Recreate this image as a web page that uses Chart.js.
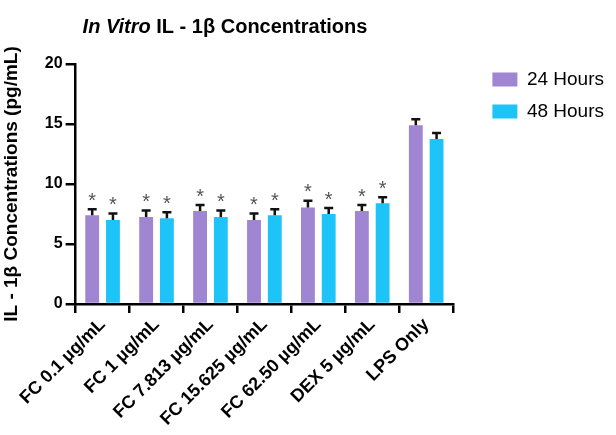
<!DOCTYPE html>
<html>
<head>
<meta charset="utf-8">
<script src="https://cdn.jsdelivr.net/npm/chart.js@4"></script>
<style>
  html, body { margin: 0; padding: 0; background: #fff; }
  #wrap { width: 616px; height: 435px; }
</style>
</head>
<body>
<div id="wrap"><canvas id="BarChart"></canvas></div>
<script>
const labels = ['FC 0.1 µg/mL', 'FC 1 µg/mL', 'FC 7.813 µg/mL', 'FC 15.625 µg/mL', 'FC 62.50 µg/mL', 'DEX 5 µg/mL', 'LPS Only'];
const hours24 = [7.4, 7.25, 7.75, 7.0, 8.05, 7.75, 14.9];
const hours48 = [7.0, 7.15, 7.25, 7.4, 7.5, 8.4, 13.75];
const err24 = [0.5, 0.55, 0.5, 0.55, 0.55, 0.5, 0.5];
const err48 = [0.55, 0.5, 0.55, 0.5, 0.5, 0.5, 0.5];
const sig24 = [true, true, true, true, true, true, false];
const sig48 = [true, true, true, true, true, true, false];
const yTicks = [0, 5, 10, 15, 20];

const FONT = "'Liberation Sans', Arial, Helvetica, sans-serif";
const errors = [err24, err48];
const stars = [sig24, sig48];

// error bars (upper only) + significance stars
const errorBars = {
    id: 'errorBars',
    afterDatasetsDraw(chart) {
        const ctx = chart.ctx;
        const y = chart.scales.y;
        ctx.save();
        chart.data.datasets.forEach((ds, i) => {
            const meta = chart.getDatasetMeta(i);
            meta.data.forEach((bar, j) => {
                const v = ds.data[j];
                const top = y.getPixelForValue(v);
                const cap = y.getPixelForValue(v + errors[i][j]);
                ctx.strokeStyle = '#111';
                ctx.lineWidth = 2.5;
                ctx.beginPath();
                ctx.moveTo(bar.x, top);
                ctx.lineTo(bar.x, cap);
                ctx.moveTo(bar.x - 4.5, cap);
                ctx.lineTo(bar.x + 4.5, cap);
                ctx.stroke();
                if (stars[i][j]) {
                    ctx.fillStyle = '#555';
                    ctx.font = '20px ' + FONT;
                    ctx.textAlign = 'center';
                    ctx.textBaseline = 'alphabetic';
                    ctx.fillText('*', bar.x, cap - 2.5);
                }
            });
        });
        ctx.restore();
    }
};

const chartTitle = {
    id: 'chartTitle',
    afterDraw(chart) {
        const ctx = chart.ctx;
        const a = 'In Vitro';
        const b = ' IL - 1β Concentrations';
        ctx.save();
        ctx.fillStyle = '#000';
        ctx.textBaseline = 'alphabetic';
        ctx.font = 'italic bold 20px ' + FONT;
        const wa = ctx.measureText(a).width;
        ctx.font = 'bold 20px ' + FONT;
        const wb = ctx.measureText(b).width;
        const x0 = 225 - (wa + wb) / 2;
        ctx.font = 'italic bold 20px ' + FONT;
        ctx.fillText(a, x0, 33);
        ctx.font = 'bold 20px ' + FONT;
        ctx.fillText(b, x0 + wa, 33);
        ctx.restore();
    }
};

const blank = {
    display: true,
    grid: { display: false },
    border: { display: false },
    ticks: { display: false }
};

const config = {
    type: 'bar',
    data: {
        labels: labels,
        datasets: [{
            label: '24 Hours',
            data: hours24,
            backgroundColor: 'rgb(160, 134, 210)',
            barPercentage: 0.667,
            categoryPercentage: 0.77
        }, {
            label: '48 Hours',
            data: hours48,
            backgroundColor: 'rgb(30, 196, 247)',
            barPercentage: 0.667,
            categoryPercentage: 0.77
        }]
    },
    options: {
        responsive: true,
        maintainAspectRatio: false,
        animation: false,
        layout: { padding: { top: 57, right: 2, left: 0, bottom: 0 } },
        plugins: {
            title: { display: false },
            tooltip: { enabled: false },
            legend: {
                position: 'right',
                align: 'start',
                labels: {
                    boxWidth: 25,
                    boxHeight: 14,
                    padding: 13,
                    color: '#000',
                    font: { family: FONT, size: 19 }
                }
            }
        },
        scales: {
            x: {
                stack: 'bottom',
                stackWeight: 0.935,
                grid: { display: true, drawOnChartArea: false, drawTicks: true, tickLength: 9, color: '#000', lineWidth: 2.5 },
                border: { display: true, color: '#000', width: 2.5 },
                ticks: {
                    color: '#000',
                    font: { family: FONT, size: 18, weight: 'bold' },
                    minRotation: 45,
                    maxRotation: 45,
                    autoSkip: false,
                    padding: 1
                },
                afterFit(scale) { scale.height = 131; }
            },
            xGap: Object.assign({}, blank, {
                type: 'linear',
                position: 'bottom',
                stack: 'bottom',
                stackWeight: 0.065,
                afterFit(scale) { scale.height = 131; }
            }),
            xTop: Object.assign({}, blank, {
                type: 'linear',
                position: 'top',
                afterFit(scale) { scale.height = 7; }
            }),
            y: {
                min: 0,
                max: 20,
                afterBuildTicks(scale) { scale.ticks = yTicks.map(v => ({ value: v })); },
                grid: { display: true, drawOnChartArea: false, drawTicks: true, tickLength: 10, color: '#000', lineWidth: 2.5 },
                border: { display: true, color: '#000', width: 2.5 },
                ticks: {
                    color: '#000',
                    padding: 3,
                    font: { family: FONT, size: 16, weight: 'bold' }
                },
                title: {
                    display: true,
                    text: 'IL - 1β Concentrations (pg/mL)',
                    color: '#000',
                    padding: 0,
                    font: { family: FONT, size: 19, weight: 'bold' }
                },
                afterFit(scale) { scale.width = 75; }
            }
        }
    },
    plugins: [errorBars, chartTitle]
};

new Chart(document.getElementById('BarChart'), config);
</script>
</body>
</html>
